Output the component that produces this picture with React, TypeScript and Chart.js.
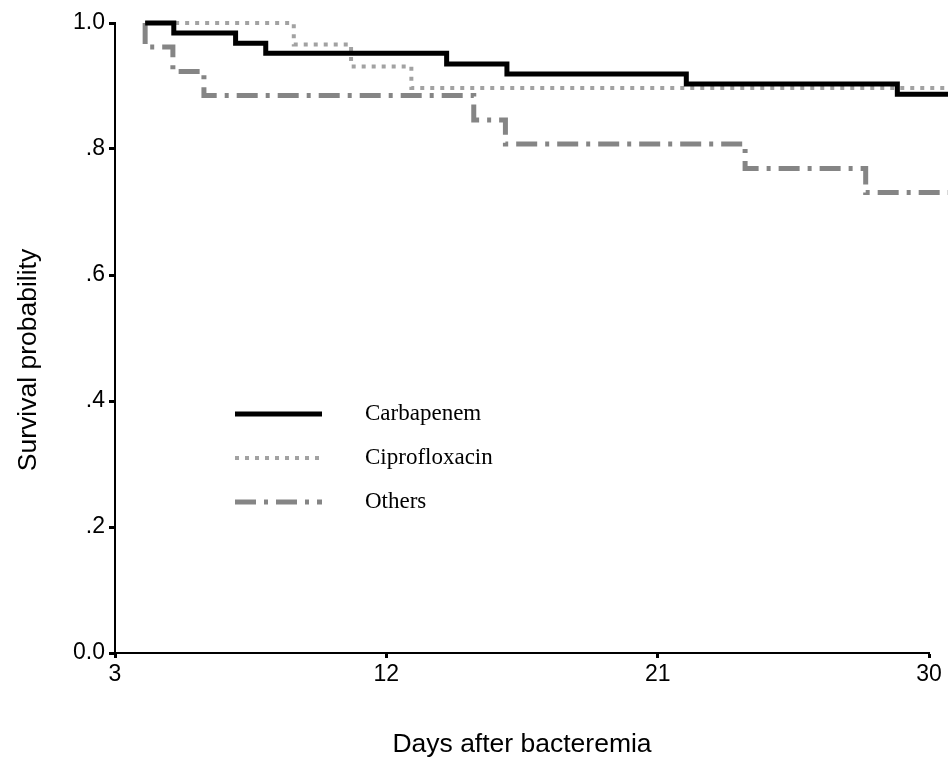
import React, { useEffect, useRef } from "react";
import { Chart, registerables } from "chart.js";

Chart.register(...registerables);

// ---- data ----
const seriesNames = ["Carbapenem", "Ciprofloxacin", "Others"];

const carbapenemDays = [4.0, 4.95, 7.0, 8.0, 14.0, 16.0, 21.95, 28.95, 30.63];
const carbapenemSurvival = [1.0, 0.984, 0.968, 0.952, 0.935, 0.919, 0.903, 0.887, 0.887];

const ciprofloxacinDays = [4.0, 8.93, 10.83, 12.83, 30.63];
const ciprofloxacinSurvival = [1.0, 0.966, 0.931, 0.897, 0.897];

const othersDays = [4.0, 4.0, 4.92, 5.95, 14.9, 15.95, 23.9, 27.9, 30.63];
const othersSurvival = [1.0, 0.962, 0.923, 0.885, 0.846, 0.808, 0.769, 0.731, 0.731];

const xTickValues = [3, 12, 21, 30];
const yTickValues = [0, 0.2, 0.4, 0.6, 0.8, 1.0];
const yTickLabels = ["0.0", ".2", ".4", ".6", ".8", "1.0"];

const xTitle = "Days after bacteremia";
const yTitle = "Survival probability";

const toPoints = (xs: number[], ys: number[]) => xs.map((x, i) => ({ x, y: ys[i] }));

const legendPlugin = {
  id: "kmLegend",
  afterDatasetsDraw(chart: any) {
    const ctx = chart.ctx;
    const rows = [414, 458, 502];
    chart.data.datasets.forEach((ds: any, i: number) => {
      const y = rows[i];
      ctx.save();
      ctx.strokeStyle = ds.borderColor;
      ctx.lineWidth = ds.borderWidth;
      ctx.setLineDash(ds.borderDash || []);
      ctx.lineCap = "butt";
      ctx.beginPath();
      ctx.moveTo(235, y);
      ctx.lineTo(322, y);
      ctx.stroke();
      ctx.setLineDash([]);
      ctx.fillStyle = "#000";
      ctx.font = "23px 'Liberation Serif', 'Times New Roman', serif";
      ctx.textAlign = "left";
      ctx.textBaseline = "middle";
      ctx.fillText(ds.label, 365, y);
      ctx.restore();
    });
  },
};

const titlesPlugin = {
  id: "axisTitles",
  afterDraw(chart: any) {
    const ctx = chart.ctx;
    const xs = chart.scales.x;
    ctx.save();
    ctx.fillStyle = "#000";
    ctx.font = "26.5px 'Liberation Sans', Arial, sans-serif";
    ctx.textAlign = "center";
    ctx.textBaseline = "middle";
    ctx.fillText(xTitle, (xs.left + xs.right) / 2, 745);
    ctx.translate(29, 360);
    ctx.rotate(-Math.PI / 2);
    ctx.fillText(yTitle, 0, 0);
    ctx.restore();
  },
};

export default function App() {
  const ref = useRef<HTMLCanvasElement | null>(null);

  useEffect(() => {
    if (!ref.current) return;
    const tickFont = { family: "'Liberation Sans', Arial, sans-serif", size: 23 };
    const chart = new Chart(ref.current, {
      type: "line",
      data: {
        datasets: [
          {
            label: seriesNames[0],
            data: toPoints(carbapenemDays, carbapenemSurvival),
            borderColor: "#000000",
            borderWidth: 5,
            stepped: true,
            pointRadius: 0,
            fill: false,
            clip: false as any,
          },
          {
            label: seriesNames[1],
            data: toPoints(ciprofloxacinDays, ciprofloxacinSurvival),
            borderColor: "#a2a2a2",
            borderWidth: 4,
            borderDash: [4, 6],
            stepped: true,
            pointRadius: 0,
            fill: false,
            clip: false as any,
          },
          {
            label: seriesNames[2],
            data: toPoints(othersDays, othersSurvival),
            borderColor: "#858585",
            borderWidth: 5,
            borderDash: [21, 8, 4, 8],
            stepped: true,
            pointRadius: 0,
            fill: false,
            clip: false as any,
          },
        ],
      },
      options: {
        responsive: false,
        animation: false,
        devicePixelRatio: 1,
        layout: { padding: { top: 23, right: 19, left: 0, bottom: 0 } },
        plugins: {
          legend: { display: false },
          tooltip: { enabled: false },
        },
        scales: {
          x: {
            type: "linear",
            min: 3,
            max: 30,
            afterBuildTicks: (s: any) => {
              s.ticks = xTickValues.map((v) => ({ value: v }));
            },
            afterFit: (s: any) => {
              s.height = 107;
            },
            grid: {
              drawOnChartArea: false,
              drawTicks: true,
              tickLength: 5,
              tickWidth: 3,
              tickColor: "#000",
            },
            border: { color: "#000", width: 2 },
            ticks: {
              color: "#000",
              font: tickFont,
              padding: 3,
              maxRotation: 0,
              autoSkip: false,
            },
            title: { display: false },
          },
          y: {
            type: "linear",
            min: 0,
            max: 1,
            afterBuildTicks: (s: any) => {
              s.ticks = yTickValues.map((v) => ({ value: v }));
            },
            afterFit: (s: any) => {
              s.width = 115;
            },
            grid: {
              drawOnChartArea: false,
              drawTicks: true,
              tickLength: 6,
              tickWidth: 3,
              tickColor: "#000",
            },
            border: { color: "#000", width: 2 },
            ticks: {
              color: "#000",
              font: tickFont,
              padding: 4,
              autoSkip: false,
              callback: (v: any) => {
                const i = yTickValues.findIndex((t) => Math.abs(t - Number(v)) < 1e-6);
                return i >= 0 ? yTickLabels[i] : "";
              },
            },
            title: { display: false },
          },
        },
      },
      plugins: [legendPlugin, titlesPlugin],
    } as any);
    return () => chart.destroy();
  }, []);

  return (
    <div style={{ position: "absolute", left: 0, top: 0, width: 948, height: 760, background: "#fff" }}>
      <canvas ref={ref} width={948} height={760} style={{ width: 948, height: 760, display: "block" }} />
    </div>
  );
}
